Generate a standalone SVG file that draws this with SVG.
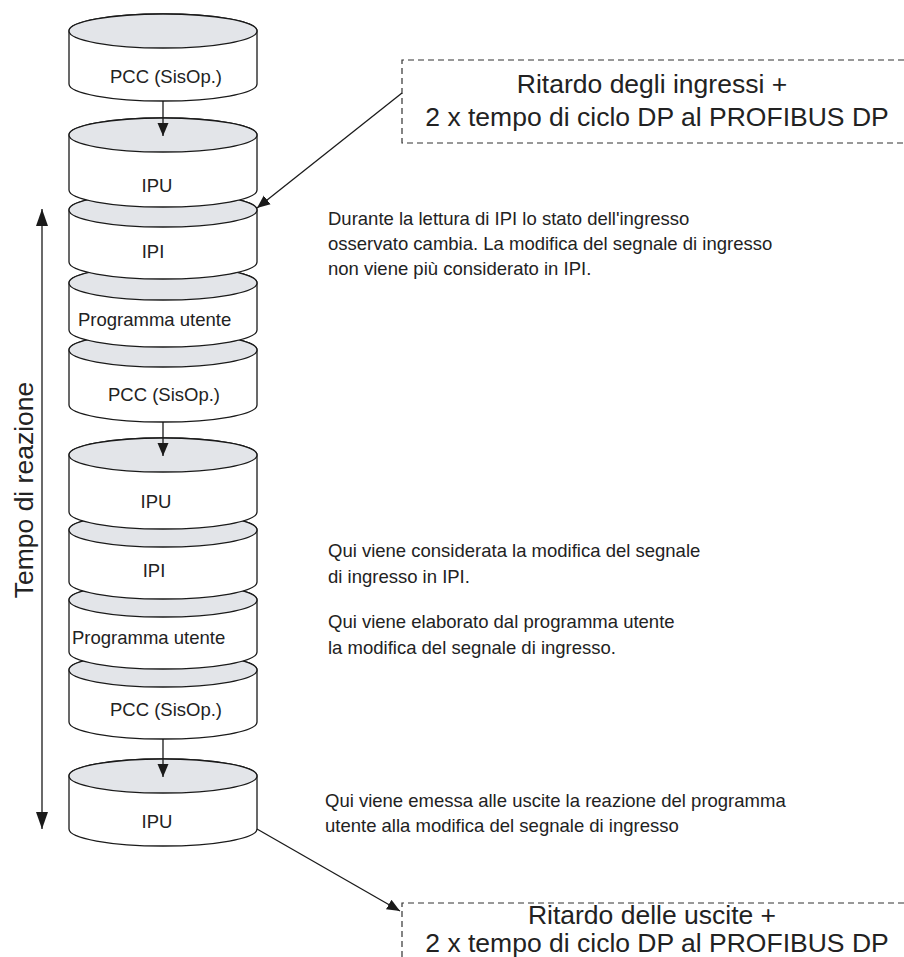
<svg xmlns="http://www.w3.org/2000/svg" width="904" height="957" viewBox="0 0 904 957">
  <style>
    .body { fill: #ffffff; stroke: #1a1a1a; stroke-width: 1.3; }
    .cap { fill: #e3e5e9; stroke: #1a1a1a; stroke-width: 1.3; }
    .lbl { font-family: "Liberation Sans", Arial, sans-serif; font-size: 18.5px; fill: #222; }
    .note { font-family: "Liberation Sans", Arial, sans-serif; font-size: 18.5px; fill: #222; }
    .big { font-family: "Liberation Sans", Arial, sans-serif; font-size: 26.5px; fill: #222; }
    .wire { stroke: #1a1a1a; stroke-width: 1.3; fill: none; }
    .dash { stroke: #333; stroke-width: 1.2; fill: none; stroke-dasharray: 6 4; }
  </style>
  <defs>
    <marker id="head" markerUnits="userSpaceOnUse" markerWidth="14" markerHeight="12" refX="13" refY="6" orient="auto-start-reverse">
      <path d="M0,0.5 L13,6 L0,11.5 z" fill="#1a1a1a"/>
    </marker>
    <marker id="headBig" markerUnits="userSpaceOnUse" markerWidth="18" markerHeight="12" refX="17" refY="6" orient="auto-start-reverse">
      <path d="M0,0 L17,6 L0,12 z" fill="#1a1a1a"/>
    </marker>
  </defs>

  <rect width="904" height="957" fill="#ffffff"/>

  <!-- cylinder stack, drawn bottom-up so each upper body hides the cap behind it -->
  <g id="nodes">
    <g id="ipu-3">
      <path class="body" d="M69,776 L69,829 A94,17 0 0 0 257,829 L257,776 A94,17 0 0 0 69,776 Z"/>
      <ellipse class="cap" cx="163" cy="776" rx="94" ry="17"/>
      <text class="lbl" x="157" y="828" text-anchor="middle">IPU</text>
    </g>
    <g id="pcc-3">
      <path class="body" d="M69,670 L69,722 A94,17 0 0 0 257,722 L257,670 A94,17 0 0 0 69,670 Z"/>
      <ellipse class="cap" cx="163" cy="670" rx="94" ry="17"/>
      <text class="lbl" x="166" y="716" text-anchor="middle">PCC (SisOp.)</text>
    </g>
    <g id="prog-2">
      <path class="body" d="M69,600 L69,652 A94,17 0 0 0 257,652 L257,600 A94,17 0 0 0 69,600 Z"/>
      <ellipse class="cap" cx="163" cy="600" rx="94" ry="17"/>
      <text class="lbl" x="72" y="644">Programma utente</text>
    </g>
    <g id="ipi-2">
      <path class="body" d="M69,530 L69,582 A94,17 0 0 0 257,582 L257,530 A94,17 0 0 0 69,530 Z"/>
      <ellipse class="cap" cx="163" cy="530" rx="94" ry="17"/>
      <text class="lbl" x="154" y="577" text-anchor="middle">IPI</text>
    </g>
    <g id="ipu-2">
      <path class="body" d="M69,455 L69,512 A94,17 0 0 0 257,512 L257,455 A94,17 0 0 0 69,455 Z"/>
      <ellipse class="cap" cx="163" cy="455" rx="94" ry="17"/>
      <text class="lbl" x="156" y="508" text-anchor="middle">IPU</text>
    </g>
    <g id="pcc-2">
      <path class="body" d="M69,350 L69,405 A94,17 0 0 0 257,405 L257,350 A94,17 0 0 0 69,350 Z"/>
      <ellipse class="cap" cx="163" cy="350" rx="94" ry="17"/>
      <text class="lbl" x="164" y="401" text-anchor="middle">PCC (SisOp.)</text>
    </g>
    <g id="prog-1">
      <path class="body" d="M69,283 L69,330 A94,17 0 0 0 257,330 L257,283 A94,17 0 0 0 69,283 Z"/>
      <ellipse class="cap" cx="163" cy="283" rx="94" ry="17"/>
      <text class="lbl" x="78" y="326">Programma utente</text>
    </g>
    <g id="ipi-1">
      <path class="body" d="M69,210 L69,262 A94,17 0 0 0 257,262 L257,210 A94,17 0 0 0 69,210 Z"/>
      <ellipse class="cap" cx="163" cy="210" rx="94" ry="17"/>
      <text class="lbl" x="153" y="258" text-anchor="middle">IPI</text>
    </g>
    <g id="ipu-1">
      <path class="body" d="M69,135 L69,190 A94,17 0 0 0 257,190 L257,135 A94,17 0 0 0 69,135 Z"/>
      <ellipse class="cap" cx="163" cy="135" rx="94" ry="17"/>
      <text class="lbl" x="157" y="192" text-anchor="middle">IPU</text>
    </g>
    <g id="pcc-1">
      <path class="body" d="M69,31 L69,84 A94,17 0 0 0 257,84 L257,31 A94,17 0 0 0 69,31 Z"/>
      <ellipse class="cap" cx="163" cy="31" rx="94" ry="17"/>
      <text class="lbl" x="166" y="83" text-anchor="middle">PCC (SisOp.)</text>
    </g>

    <!-- dashed callout boxes, open to the right -->
    <g id="input-delay">
      <path class="dash" d="M904,60 L402,60 L402,143 L904,143"/>
      <text class="big" x="652" y="93" text-anchor="middle">Ritardo degli ingressi +</text>
      <text class="big" x="657" y="126" text-anchor="middle">2 x tempo di ciclo DP al PROFIBUS DP</text>
    </g>
    <g id="output-delay">
      <path class="dash" d="M904,903 L402,903 L402,957"/>
      <text class="big" x="652" y="924" text-anchor="middle">Ritardo delle uscite +</text>
      <text class="big" x="657" y="952" text-anchor="middle">2 x tempo di ciclo DP al PROFIBUS DP</text>
    </g>

    <!-- explanatory notes -->
    <g id="note-ipi-read">
      <text class="note" x="328" y="225">Durante la lettura di IPI lo stato dell'ingresso</text>
      <text class="note" x="328" y="250">osservato cambia. La modifica del segnale di ingresso</text>
      <text class="note" x="328" y="275">non viene più considerato in IPI.</text>
    </g>
    <g id="note-ipi-taken">
      <text class="note" x="328" y="557">Qui viene considerata la modifica del segnale</text>
      <text class="note" x="328" y="583">di ingresso in IPI.</text>
    </g>
    <g id="note-program">
      <text class="note" x="328" y="628">Qui viene elaborato dal programma utente</text>
      <text class="note" x="328" y="654">la modifica del segnale di ingresso.</text>
    </g>
    <g id="note-output">
      <text class="note" x="325" y="807">Qui viene emessa alle uscite la reazione del programma</text>
      <text class="note" x="325" y="832">utente alla modifica del segnale di ingresso</text>
    </g>

    <g id="reaction-label">
      <text class="big" x="0" y="0" text-anchor="middle" transform="translate(33,490) rotate(-90)">Tempo di reazione</text>
    </g>
  </g>

  <g id="connectors">
    <line class="wire" x1="163" y1="101" x2="163" y2="136" marker-end="url(#head)"/>
    <line class="wire" x1="163" y1="422" x2="163" y2="456" marker-end="url(#head)"/>
    <line class="wire" x1="163" y1="739" x2="163" y2="777" marker-end="url(#head)"/>
    <line class="wire" x1="402" y1="93" x2="257" y2="208" marker-end="url(#head)"/>
    <line class="wire" x1="257" y1="829" x2="400" y2="911" marker-end="url(#head)"/>
    <line class="wire" x1="42" y1="209" x2="42" y2="829" marker-start="url(#headBig)" marker-end="url(#headBig)"/>
  </g>
</svg>
